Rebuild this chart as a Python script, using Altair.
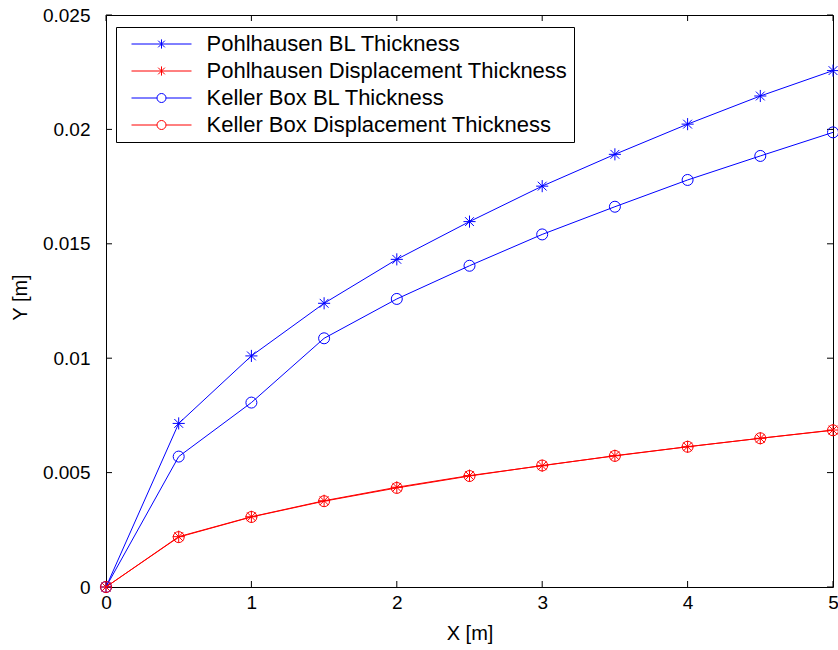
import altair as alt
import pandas as pd

x_vals = [0, 0.5, 1, 1.5, 2, 2.5, 3, 3.5, 4, 4.5, 5]
pohl_bl = [0, 0.00715, 0.0101, 0.0124, 0.01432, 0.01597, 0.01752, 0.01891, 0.02023, 0.02146, 0.02257]
pohl_disp = [0, 0.0022, 0.00307, 0.00377, 0.00436, 0.00487, 0.0053, 0.00574, 0.00613, 0.0065, 0.00686]
keller_bl = [0, 0.0057, 0.00806, 0.01087, 0.01259, 0.01404, 0.01541, 0.01662, 0.01779, 0.01884, 0.01987]
keller_disp = [0, 0.00218, 0.00306, 0.00375, 0.00433, 0.00485, 0.00531, 0.00573, 0.00613, 0.0065, 0.00685]

series_names = [
    "Pohlhausen BL Thickness",
    "Pohlhausen Displacement Thickness",
    "Keller Box BL Thickness",
    "Keller Box Displacement Thickness",
]
series_colors = ["#0000ff", "#ff0000", "#0000ff", "#ff0000"]
x_ticks = [0, 1, 2, 3, 4, 5]
y_ticks = [0, 0.005, 0.01, 0.015, 0.02, 0.025]

rows = []
for name, vals in zip(series_names, [pohl_bl, pohl_disp, keller_bl, keller_disp]):
    for i, (xv, yv) in enumerate(zip(x_vals, vals)):
        rows.append({"series": name, "x": xv, "y": yv, "order": i})
df = pd.DataFrame(rows)

ASTER = "M0,-1.1V1.1M-1.1,0H1.1M-0.8,-0.8L0.8,0.8M-0.8,0.8L0.8,-0.8"
CIRC = "M1,0A1,1,0,1,1,-1,0A1,1,0,1,1,1,0Z"
shape_range = [ASTER, ASTER, CIRC, CIRC]

LEG_ASTER = "M-6,0H6M0,-0.92V0.92M-0.67,-0.67L0.67,0.67M-0.67,0.67L0.67,-0.67"
LEG_CIRC = "M-6,0H-0.9M0.9,0H6M0.9,0A0.9,0.9,0,1,1,-0.9,0A0.9,0.9,0,1,1,0.9,0Z"
legend_shapes = [LEG_ASTER, LEG_ASTER, LEG_CIRC, LEG_CIRC]

W, H = 727, 572
FONT = "Liberation Sans"

xscale = alt.Scale(domain=[0, 5], nice=False, zero=False)
yscale = alt.Scale(domain=[0, 0.025], nice=False, zero=False)
cscale = alt.Scale(domain=series_names, range=series_colors)

lines = alt.Chart(df).mark_line(strokeWidth=1).encode(
    x=alt.X("x:Q", scale=xscale,
            axis=alt.Axis(values=x_ticks, format="~g", title="X [m]", ticks=False, tickSize=0,
                          domain=False, labelFlush=False, labelPadding=6,
                          titleX=363.5, titleY=46, titleBaseline="middle", titleAlign="center")),
    y=alt.Y("y:Q", scale=yscale,
            axis=alt.Axis(values=y_ticks, format="~g", title="Y [m]", ticks=False, tickSize=0,
                          domain=False, labelFlush=False, labelPadding=16,
                          titleX=-86, titleY=282, titleBaseline="middle", titleAlign="center",
                          titleAngle=-90)),
    color=alt.Color("series:N", scale=cscale, legend=None),
    detail="series:N",
    order="order:Q",
)

points = alt.Chart(df).mark_point(filled=False, strokeWidth=1, opacity=1, size=121).encode(
    x=alt.X("x:Q", scale=xscale),
    y=alt.Y("y:Q", scale=yscale),
    color=alt.Color("series:N", scale=cscale, legend=None),
    shape=alt.Shape("series:N", scale=alt.Scale(domain=series_names, range=shape_range), legend=None),
)

leg = alt.Legend(
    title=None,
    orient="none",
    legendX=10,
    legendY=12,
    padding=6,
    strokeColor="black",
    fillColor="white",
    labelFont=FONT,
    labelFontSize=22,
    labelColor="black",
    labelLimit=600,
    symbolSize=100,
    symbolStrokeWidth=1,
    symbolOpacity=1,
    symbolFillColor="transparent",
    symbolOffset=28.5,
    labelOffset=34,
    rowPadding=5,
)

legend_layer = alt.Chart(df).transform_filter("false").mark_point(
    filled=False, strokeWidth=1, size=100
).encode(
    x=alt.X("x:Q", scale=xscale),
    y=alt.Y("y:Q", scale=yscale),
    color=alt.Color("series:N", scale=cscale, legend=leg),
    shape=alt.Shape("series:N", scale=alt.Scale(domain=series_names, range=legend_shapes), legend=leg),
)

xt = pd.DataFrame({"t": x_ticks})
yt = pd.DataFrame({"t": y_ticks})

xt_bottom = alt.Chart(xt).mark_rule(color="black", strokeWidth=1).encode(
    x=alt.X("t:Q", scale=xscale), y=alt.value(H), y2=alt.value(H - 6))
xt_top = alt.Chart(xt).mark_rule(color="black", strokeWidth=1).encode(
    x=alt.X("t:Q", scale=xscale), y=alt.value(0), y2=alt.value(6))
yt_left = alt.Chart(yt).mark_rule(color="black", strokeWidth=1).encode(
    y=alt.Y("t:Q", scale=yscale), x=alt.value(0), x2=alt.value(6))
yt_right = alt.Chart(yt).mark_rule(color="black", strokeWidth=1).encode(
    y=alt.Y("t:Q", scale=yscale), x=alt.value(W), x2=alt.value(W - 6))

chart = alt.layer(xt_bottom, xt_top, yt_left, yt_right, lines, points, legend_layer).resolve_scale(
    color="independent", shape="independent"
).properties(
    width=W,
    height=H,
    autosize=alt.AutoSizeParams(type="none"),
    padding={"left": 106, "top": 15, "right": 5, "bottom": 63},
    background="white",
).configure_view(
    stroke="black", strokeWidth=1
).configure_axis(
    grid=False,
    labelFont=FONT,
    labelFontSize=19,
    labelColor="black",
    titleFont=FONT,
    titleFontSize=20,
    titleFontWeight="normal",
    titleColor="black",
)

chart.save("out.html", embed_options={"renderer": "svg", "actions": False})
